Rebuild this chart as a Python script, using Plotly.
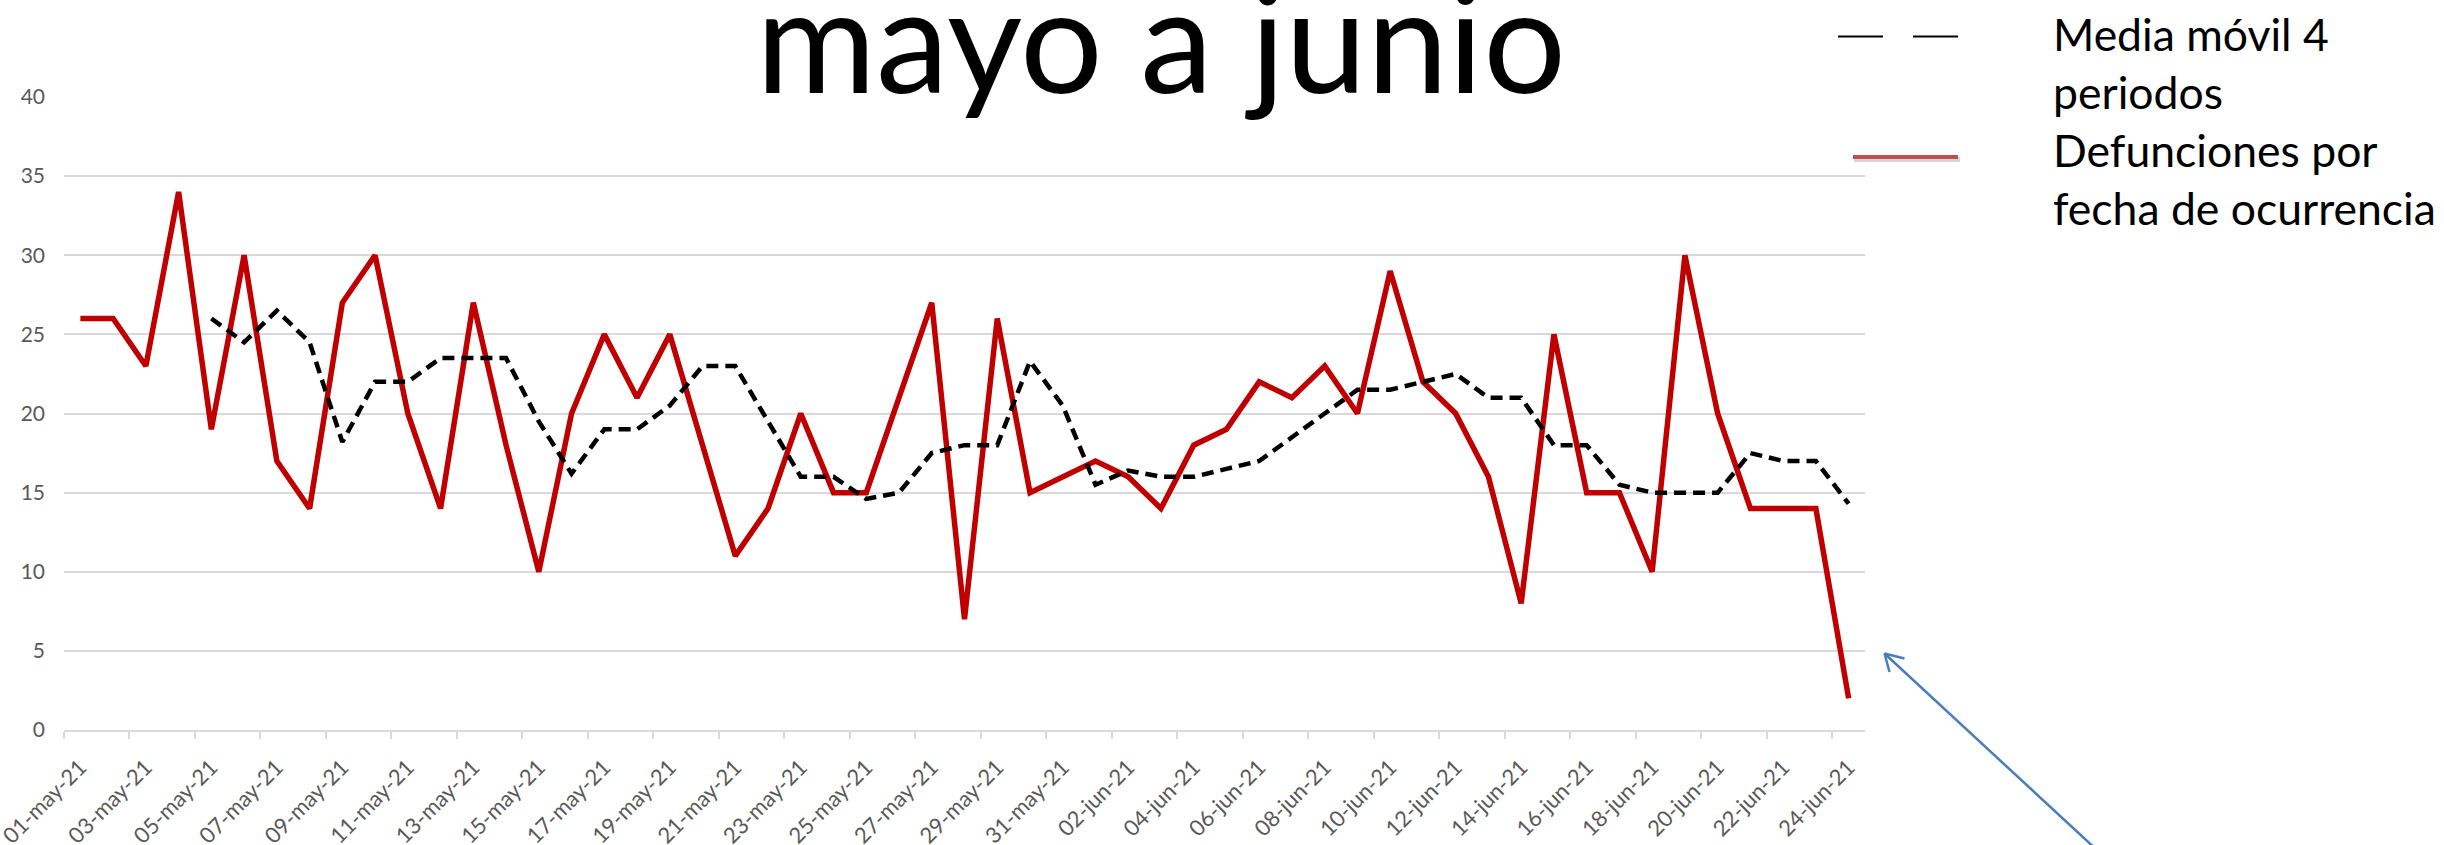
import plotly.graph_objects as go

# ---- data ----
dates = (["%02d-may-21" % d for d in range(1, 32)] +
         ["%02d-jun-21" % d for d in range(1, 25)])

defunciones = [26, 26, 23, 34, 19, 30, 17, 14, 27, 30,
               20, 14, 27, 18, 10, 20, 25, 21, 25, 18,
               11, 14, 20, 15, 15, 21, 27, 7, 26, 15,
               16,
               17, 16, 14, 18, 19, 22, 21, 23, 20, 29,
               22, 20, 16, 8, 25, 15, 15, 10, 30, 20,
               14, 14, 14, 2]

media_movil = [None, None, None, None, 26, 24.5, 26.5, 24.5, 18.2, 22,
               22, 23.5, 23.5, 23.5, 19.5, 16.2, 19, 19, 20.5, 23,
               23, 19.5, 16, 16, 14.6, 15, 17.5, 18, 18, 23.3,
               20.5,
               15.5, 16.4, 16, 16, 16.5, 17, 18.5, 20, 21.5, 21.5,
               22, 22.5, 21, 21, 18, 18, 15.5, 15, 15, 15,
               17.5, 17, 17, 14.3]

title_text = "mayo a junio"
legend_ma = "Media móvil 4<br>periodos"
legend_def = "Defunciones por<br>fecha de ocurrencia"
y_ticks = [0, 5, 10, 15, 20, 25, 30, 35, 40]

# ---- layout helpers (pixel -> paper) ----
W, H = 2444, 845
L, R, T, B = 64, 1865, 97, 730
def px(x):
    return (x - L) / (R - L)
def py(y):
    return (B - y) / (B - T)

FONT = "Lato, 'Open Sans', sans-serif"
idx = list(range(len(dates)))

fig = go.Figure()
fig.add_trace(go.Scatter(
    x=idx, y=defunciones, mode="lines",
    line=dict(color="#C00000", width=5.5),
    name="Defunciones por fecha de ocurrencia", showlegend=False))
fig.add_trace(go.Scatter(
    x=idx, y=media_movil, mode="lines",
    line=dict(color="#000000", width=4.5, dash="12px,7px"),
    name="Media móvil 4 periodos", showlegend=False))

shapes = []
# legend: black dashed sample
for a, b in [(1838, 1883), (1913, 1958)]:
    shapes.append(dict(type="line", xref="paper", yref="paper",
                       x0=px(a), x1=px(b), y0=py(36.5), y1=py(36.5),
                       line=dict(color="black", width=2)))
# legend: red sample with soft shadow
shapes.append(dict(type="line", xref="paper", yref="paper",
                   x0=px(1854), x1=px(1960), y0=py(159.5), y1=py(159.5),
                   line=dict(color="rgba(0,0,0,0.16)", width=5)))
shapes.append(dict(type="line", xref="paper", yref="paper",
                   x0=px(1853), x1=px(1958), y0=py(157), y1=py(157),
                   line=dict(color="#C0504D", width=4)))
# blue arrow
ac = "#4A7EBB"
tip = (1884.5, 653.5)
shapes.append(dict(type="line", xref="paper", yref="paper",
                   x0=px(tip[0]), y0=py(tip[1]), x1=px(2125), y1=py(876),
                   line=dict(color=ac, width=2.5)))
shapes.append(dict(type="line", xref="paper", yref="paper",
                   x0=px(tip[0]), y0=py(tip[1]), x1=px(1904.5), y1=py(658.5),
                   line=dict(color=ac, width=2.5)))
shapes.append(dict(type="line", xref="paper", yref="paper",
                   x0=px(tip[0]), y0=py(tip[1]), x1=px(1889.5), y1=py(672),
                   line=dict(color=ac, width=2.5)))

annotations = [
    dict(text=title_text, xref="paper", yref="paper",
         x=px(1161), y=py(36), xanchor="center", yanchor="middle",
         showarrow=False, font=dict(family=FONT, size=146, color="black")),
    dict(text=legend_ma, xref="paper", yref="paper",
         x=px(2051), y=py(5), xanchor="left", yanchor="top", align="left",
         showarrow=False, font=dict(family=FONT, size=44.5, color="black")),
    dict(text=legend_def, xref="paper", yref="paper",
         x=px(2051), y=py(121), xanchor="left", yanchor="top", align="left",
         showarrow=False, font=dict(family=FONT, size=44.5, color="black")),
]

fig.update_layout(
    width=W, height=H,
    margin=dict(l=L, r=W - R, t=T, b=H - B, pad=0, autoexpand=False),
    paper_bgcolor="white", plot_bgcolor="white",
    shapes=shapes, annotations=annotations,
    showlegend=False,
    xaxis=dict(
        range=[-0.5, len(dates) - 0.5], automargin=False,
        tickmode="array", tickvals=idx[::2], ticktext=dates[::2],
        tickangle=-45, ticks="", showgrid=False,
        showline=True, linecolor="#D9D9D9", linewidth=1.5,
        ticklabelstandoff=14, ticklabeloverflow="allow",
        tickfont=dict(family=FONT, size=22, color="#595959"),
        minor=dict(tickmode="array",
                   tickvals=[i - 0.5 for i in range(0, len(dates), 2)],
                   ticks="outside", ticklen=7, tickwidth=1.5,
                   tickcolor="#D9D9D9", showgrid=False),
        zeroline=False, fixedrange=True,
    ),
    yaxis=dict(
        range=[0, 40], tickmode="array", tickvals=y_ticks, automargin=False,
        showgrid=True, gridcolor="#D9D9D9", gridwidth=1.5,
        zeroline=False, showline=False, ticks="",
        ticklabelstandoff=18,
        tickfont=dict(family=FONT, size=21, color="#595959"),
    ),
)

fig.write_html("out.html",
               config={"displayModeBar": False},
               post_script="document.body.style.margin='0';"
                           "document.body.style.padding='0';")
